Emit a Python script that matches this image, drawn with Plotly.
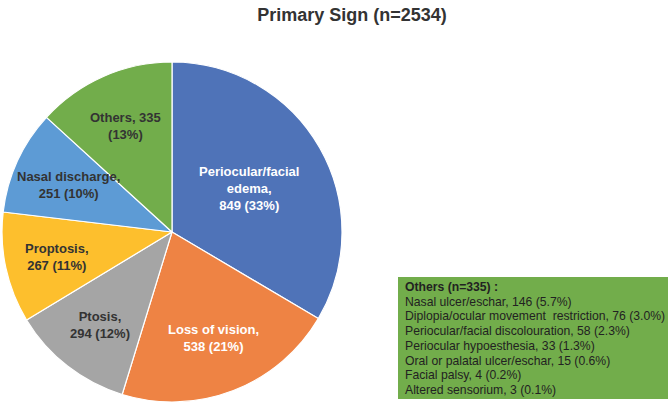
import math
import plotly.graph_objects as go

# main pie data
labels = ["Periocular/facial edema", "Loss of vision", "Ptosis", "Proptosis",
          "Nasal discharge", "Others"]
counts = [849, 538, 294, 267, 251, 335]
pct = [33, 21, 12, 11, 10, 13]
slice_text = ["Periocular/facial<br>edema,<br>849 (33%)",
              "Loss of vision,<br>538 (21%)",
              "Ptosis,<br>294 (12%)",
              "Proptosis,<br>267 (11%)",
              "Nasal discharge,<br>251 (10%)",
              "Others, 335<br>(13%)"]

# breakdown of "Others"
others_labels = ["Nasal ulcer/eschar", "Diplopia/ocular movement  restriction",
                 "Periocular/facial discolouration", "Periocular hypoesthesia",
                 "Oral or palatal ulcer/eschar", "Facial palsy", "Altered sensorium"]
others_counts = [146, 76, 58, 33, 15, 4, 3]
others_pct = [5.7, 3.0, 2.3, 1.3, 0.6, 0.2, 0.1]

# styling
colors = ["#4F73B8", "#EE8344", "#A5A5A5", "#FDBF2D", "#5D9BD5", "#72AD4B"]
text_colors = ["white", "white", "#333333", "#333333", "#333333", "#333333"]
label_radius = [0.52, 0.67, 0.69, 0.69, 0.67, 0.68]  # fraction of pie radius

W, H = 671, 404
PIE_L, PIE_R, PIE_T, PIE_B = 2, 342, 62, 402
R = (PIE_R - PIE_L) / 2
cx = (PIE_L + PIE_R) / 2
cy = (PIE_T + PIE_B) / 2

fig = go.Figure(go.Pie(
    labels=labels,
    values=counts,
    textinfo="none",
    marker=dict(colors=colors, line=dict(color="white", width=1.2)),
    sort=False,
    direction="clockwise",
    rotation=0,
    domain=dict(x=[PIE_L / W, PIE_R / W], y=[1 - PIE_B / H, 1 - PIE_T / H]),
    hoverinfo="label+value+percent",
))

# slice labels at the middle angle of each slice (clockwise from 12 o'clock)
total = sum(counts)
cum = 0
for val, txt, col, rf in zip(counts, slice_text, text_colors, label_radius):
    mid = (cum + val / 2) / total * 2 * math.pi
    cum += val
    px_ = cx + rf * R * math.sin(mid)
    py_ = cy - rf * R * math.cos(mid)
    fig.add_annotation(
        text=f"<b>{txt}</b>", xref="paper", yref="paper",
        x=px_ / W, y=1 - py_ / H, xanchor="center", yanchor="middle",
        showarrow=False, align="center",
        font=dict(family="Liberation Sans, Arial", size=13, color=col),
    )

# "Others" breakdown box
BOX_L, BOX_T, BOX_R, BOX_B = 398, 277, 668, 399
fig.add_shape(type="rect", xref="paper", yref="paper",
              x0=BOX_L / W, x1=BOX_R / W, y0=1 - BOX_B / H, y1=1 - BOX_T / H,
              fillcolor="#72AD4B", line=dict(width=0), layer="below")

box_lines = ["<b>Others (n=335) :</b>"] + [
    f"{l}, {c} ({p:.1f}%)" for l, c, p in zip(others_labels, others_counts, others_pct)
]
line_h = 14.7
for i, line in enumerate(box_lines):
    fig.add_annotation(
        text=line, xref="paper", yref="paper",
        x=403 / W, y=1 - (287 + i * line_h) / H,
        xanchor="left", yanchor="middle", showarrow=False, align="left",
        font=dict(family="Liberation Sans, Arial", size=12.2, color="#222222"),
    )

fig.update_layout(
    width=W, height=H,
    title=dict(text="<b>Primary Sign (n=2534)</b>", x=352 / W, xanchor="center",
               y=1 - 15 / H, yanchor="middle",
               font=dict(family="Liberation Sans, Arial", size=18, color="#333333")),
    showlegend=False,
    margin=dict(l=0, r=0, t=0, b=0),
    paper_bgcolor="white",
    plot_bgcolor="white",
)

fig.write_html("out.html", config={"displayModeBar": False},
               post_script="document.body.style.margin='0';")
